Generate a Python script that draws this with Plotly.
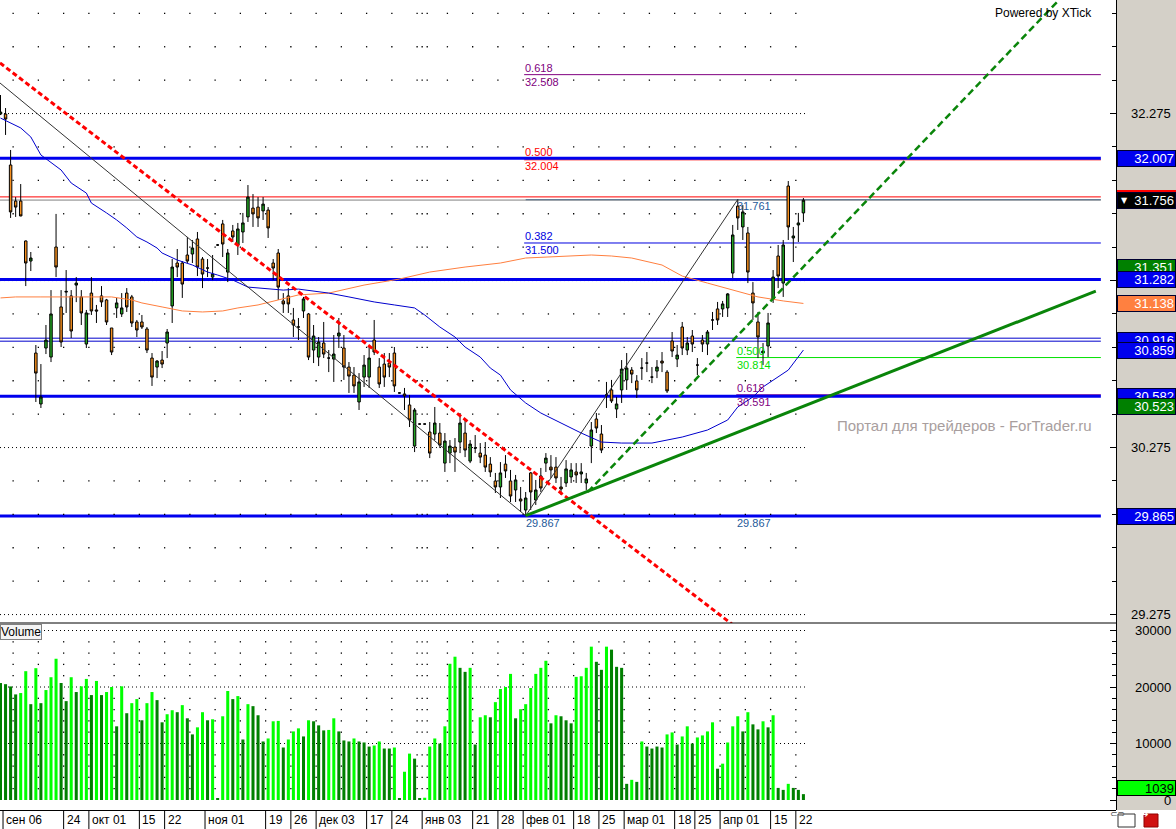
import plotly.graph_objects as go

# ---------------- data ----------------
opens = [32.272, 32.272, 31.967, 31.751, 31.751, 31.512, 31.392, 30.841, 30.536, 30.871,
         30.817, 31.476, 31.117, 31.206, 31.183, 31.248, 31.177, 30.895, 31.200, 31.099,
         31.183, 31.159, 30.991, 31.111, 31.075, 31.200, 31.177, 31.027, 31.027, 30.985,
         30.811, 30.757, 30.799, 30.901, 31.123, 31.380, 31.380, 31.428, 31.434, 31.524,
         31.404, 31.350, 31.296, 31.488, 31.614, 31.326, 31.572, 31.488, 31.566, 31.656,
         31.709, 31.715, 31.692, 31.697, 31.380, 31.440, 31.153, 31.183, 31.039, 30.997,
         31.093, 31.075, 30.859, 30.817, 30.901, 30.811, 30.805, 30.943, 30.871, 30.757,
         30.709, 30.548, 30.697, 30.697, 30.919, 30.757, 30.775, 30.781, 30.841, 30.602,
         30.596, 30.530, 30.284, 30.416, 30.416, 30.368, 30.356, 30.362, 30.182, 30.242,
         30.278, 30.308, 30.362, 30.194, 30.272, 30.242, 30.230, 30.176, 30.075, 30.039,
         30.176, 30.075, 30.021, 29.967, 29.901, 30.123, 29.961, 30.105, 30.182, 30.158,
         30.158, 30.039, 30.063, 30.099, 30.129, 30.117, 30.063, 30.284, 30.446, 30.356,
         30.590, 30.620, 30.506, 30.620, 30.680, 30.739, 30.674, 30.751, 30.781, 30.697,
         30.733, 30.793, 30.727, 30.913, 30.805, 30.997, 30.859, 30.943, 30.769, 30.919,
         30.895, 31.039, 31.105, 31.105, 31.111, 31.320, 31.721, 31.596, 31.560, 31.200,
         31.027, 30.841, 30.883, 31.165, 31.422, 31.260, 31.841, 31.530, 31.608, 31.680]
highs = [32.386, 32.308, 32.057, 31.775, 31.853, 31.515, 31.446, 30.889, 30.775, 31.009,
         31.218, 31.674, 31.218, 31.338, 31.218, 31.296, 31.218, 31.099, 31.296, 31.129,
         31.242, 31.165, 30.991, 31.171, 31.200, 31.230, 31.189, 31.039, 31.069, 30.997,
         30.841, 30.799, 30.853, 30.985, 31.404, 31.464, 31.392, 31.536, 31.518, 31.566,
         31.416, 31.404, 31.428, 31.494, 31.638, 31.464, 31.608, 31.620, 31.680, 31.847,
         31.793, 31.775, 31.775, 31.715, 31.404, 31.464, 31.200, 31.230, 31.111, 31.051,
         31.177, 31.081, 31.009, 30.937, 31.027, 30.859, 30.949, 31.051, 30.949, 30.787,
         30.757, 30.721, 30.829, 30.877, 31.039, 30.811, 30.841, 30.841, 30.877, 30.605,
         30.632, 30.590, 30.512, 30.419, 30.419, 30.428, 30.518, 30.422, 30.362, 30.320,
         30.332, 30.482, 30.440, 30.320, 30.350, 30.302, 30.308, 30.218, 30.123, 30.188,
         30.230, 30.141, 30.111, 30.039, 30.009, 30.129, 30.081, 30.153, 30.242, 30.230,
         30.218, 30.099, 30.200, 30.182, 30.182, 30.182, 30.123, 30.428, 30.482, 30.410,
         30.668, 30.680, 30.578, 30.799, 30.841, 30.757, 30.709, 30.811, 30.847, 30.757,
         30.799, 30.847, 30.739, 30.967, 30.889, 31.027, 30.937, 30.979, 30.811, 30.949,
         30.979, 31.087, 31.147, 31.153, 31.200, 31.608, 31.761, 31.727, 31.596, 31.266,
         31.087, 30.901, 31.081, 31.338, 31.488, 31.518, 31.871, 31.596, 31.680, 31.769]
lows = [32.266, 32.147, 31.650, 31.656, 31.660, 31.242, 31.332, 30.548, 30.512, 30.835,
        30.787, 31.296, 30.877, 31.081, 30.931, 31.146, 31.009, 30.871, 31.069, 31.021,
        31.117, 31.009, 30.829, 31.051, 31.057, 31.087, 30.997, 30.937, 30.985, 30.841,
        30.644, 30.691, 30.751, 30.811, 31.021, 31.296, 31.171, 31.380, 31.380, 31.302,
        31.230, 31.296, 31.278, 31.482, 31.416, 31.266, 31.506, 31.428, 31.500, 31.626,
        31.596, 31.596, 31.638, 31.530, 31.278, 31.159, 31.081, 31.081, 30.937, 30.919,
        31.051, 30.799, 30.781, 30.763, 30.811, 30.727, 30.668, 30.871, 30.680, 30.602,
        30.602, 30.500, 30.638, 30.632, 30.829, 30.632, 30.638, 30.697, 30.608, 30.599,
        30.500, 30.398, 30.248, 30.413, 30.413, 30.212, 30.320, 30.272, 30.129, 30.182,
        30.129, 30.242, 30.218, 30.182, 30.242, 30.182, 30.129, 30.099, 30.003, 29.973,
        30.093, 29.949, 29.949, 29.889, 29.867, 29.901, 29.931, 30.009, 30.129, 30.093,
        30.063, 29.991, 30.039, 30.063, 30.063, 30.063, 30.021, 30.182, 30.362, 30.242,
        30.512, 30.542, 30.452, 30.542, 30.620, 30.661, 30.572, 30.680, 30.727, 30.661,
        30.691, 30.727, 30.602, 30.817, 30.757, 30.829, 30.829, 30.847, 30.709, 30.847,
        30.829, 30.979, 31.009, 31.057, 31.057, 31.290, 31.578, 31.518, 31.260, 31.039,
        30.811, 30.769, 30.817, 31.141, 31.230, 31.177, 31.518, 31.386, 31.506, 31.626]
closes = [32.284, 32.242, 31.686, 31.715, 31.662, 31.380, 31.410, 30.721, 30.578, 30.919,
          31.075, 31.356, 30.907, 31.210, 30.973, 31.260, 31.081, 31.081, 31.093, 31.093,
          31.147, 31.027, 30.847, 31.141, 31.111, 31.117, 31.021, 30.979, 30.997, 30.859,
          30.697, 30.793, 30.775, 30.967, 31.356, 31.356, 31.254, 31.392, 31.470, 31.356,
          31.314, 31.350, 31.314, 31.488, 31.494, 31.440, 31.536, 31.584, 31.620, 31.775,
          31.674, 31.650, 31.733, 31.590, 31.350, 31.236, 31.135, 31.135, 31.009, 30.997,
          31.165, 30.817, 30.943, 30.907, 30.835, 30.811, 30.835, 30.961, 30.757, 30.703,
          30.644, 30.668, 30.769, 30.811, 30.847, 30.656, 30.697, 30.757, 30.644, 30.602,
          30.584, 30.440, 30.500, 30.416, 30.416, 30.242, 30.422, 30.290, 30.314, 30.284,
          30.248, 30.422, 30.260, 30.296, 30.272, 30.218, 30.158, 30.129, 30.039, 30.123,
          30.135, 29.985, 30.081, 29.955, 29.973, 30.009, 30.021, 30.033, 30.212, 30.141,
          30.093, 30.027, 30.147, 30.141, 30.111, 30.129, 30.087, 30.380, 30.392, 30.260,
          30.590, 30.554, 30.536, 30.745, 30.751, 30.715, 30.620, 30.751, 30.781, 30.697,
          30.757, 30.781, 30.614, 30.853, 30.829, 30.871, 30.901, 30.895, 30.769, 30.895,
          30.967, 31.039, 31.039, 31.135, 31.195, 31.548, 31.650, 31.686, 31.326, 31.141,
          30.937, 30.853, 31.021, 31.296, 31.302, 31.488, 31.596, 31.542, 31.620, 31.756]
volumes = [20700, 20500, 20100, 18690, 18930, 22800, 16960, 23330, 17140, 19460,
           21730, 25000, 20710, 17500, 21730, 19110, 20120, 21430, 18570, 21070,
           18570, 19110, 20000, 13040, 20120, 15360, 17140, 17860, 14110, 17140,
           19110, 17680, 13750, 15180, 15890, 15540, 16790, 14460, 11610, 12860,
           15540, 14110, 14290, 300, 14820, 19290, 17860, 18390, 10710, 16960,
           16610, 15000, 10360, 10890, 13930, 14000, 9290, 10710, 12140, 12680,
           11250, 14110, 13930, 13210, 12320, 12400, 14460, 12140, 10540, 10360,
           10890, 10360, 10180, 9460, 9640, 10360, 9110, 9110, 9290, 360,
           5000, 8210, 7320, 300, 400, 9460, 10890, 10000, 13040, 24110,
           25360, 23390, 22680, 23390, 9820, 14640, 15000, 14640, 17320, 19640,
           20000, 22320, 14460, 16070, 16960, 19820, 22320, 23390, 24640, 13570,
           15000, 14820, 14110, 13570, 21790, 21900, 23390, 27140, 24460, 23040,
           27140, 26610, 23570, 23390, 2860, 3570, 3210, 10360, 9460, 9110,
           9460, 9290, 11610, 11960, 9820, 11250, 13040, 10000, 11070, 11430,
           12140, 13750, 5540, 6430, 10180, 13040, 14820, 12140, 15540, 13390,
           12500, 13930, 12860, 15000, 2140, 1790, 2860, 2140, 1790, 1039]
vol_up = [0, 0, 0, 0, 1, 1, 0, 1, 0, 1,
          1, 1, 0, 0, 1, 0, 1, 1, 0, 1,
          0, 1, 1, 0, 1, 0, 1, 1, 0, 1,
          1, 0, 0, 1, 1, 0, 1, 0, 0, 1,
          1, 0, 1, 0, 1, 1, 0, 1, 0, 1,
          0, 0, 0, 1, 1, 1, 0, 1, 1, 1,
          0, 1, 0, 0, 0, 1, 1, 0, 0, 0,
          1, 0, 0, 0, 1, 1, 0, 0, 1, 0,
          1, 1, 0, 0, 1, 1, 1, 0, 1, 1,
          1, 0, 0, 1, 0, 1, 1, 0, 1, 1,
          1, 1, 0, 1, 1, 1, 1, 1, 1, 0,
          1, 0, 0, 0, 1, 1, 1, 1, 0, 0,
          1, 0, 0, 0, 0, 1, 0, 1, 0, 0,
          0, 0, 1, 1, 0, 1, 1, 0, 1, 1,
          1, 1, 0, 1, 1, 1, 1, 0, 1, 0,
          0, 1, 0, 1, 0, 0, 1, 0, 0, 0]
bars_idx = list(range(len(opens)))

blue_ma_idx = [0, 4, 6, 8, 12, 14, 17, 18, 21, 23, 25, 27, 29, 31, 32, 35, 38, 41, 43, 46,
               49, 53, 56, 59, 62, 65, 69, 74, 78, 82, 84, 87, 90, 92, 95, 97, 99, 101, 104, 107,
               111, 115, 119, 123, 129, 135, 140, 144, 146, 149, 151, 153, 156, 159]
blue_ma_val = [32.248, 32.189, 32.135, 32.027, 31.937, 31.859, 31.799, 31.739, 31.680, 31.638,
               31.590, 31.536, 31.506, 31.470, 31.440, 31.398, 31.368, 31.326, 31.308, 31.278,
               31.236, 31.224, 31.218, 31.224, 31.212, 31.200, 31.177, 31.147, 31.129, 31.111,
               31.069, 30.997, 30.937, 30.877, 30.817, 30.751, 30.709, 30.620, 30.542, 30.482,
               30.422, 30.362, 30.308, 30.302, 30.302, 30.338, 30.380, 30.440, 30.518, 30.578,
               30.638, 30.680, 30.739, 30.859]
orange_ma_idx = [0, 3, 8, 17, 22, 26, 28, 32, 36, 40, 44, 47, 51, 55, 59, 65, 72, 79, 85, 92,
                 99, 104, 111, 117, 121, 125, 131, 135, 140, 145, 150, 155, 159]
orange_ma_val = [31.171, 31.177, 31.177, 31.177, 31.177, 31.159, 31.141, 31.117, 31.093, 31.087,
                 31.093, 31.111, 31.129, 31.159, 31.189, 31.200, 31.248, 31.284, 31.326, 31.356,
                 31.380, 31.410, 31.422, 31.428, 31.422, 31.410, 31.368, 31.302, 31.260, 31.218,
                 31.177, 31.153, 31.138]

# trend lines: anchor points (bar index, price)
red_trend_x, red_trend_y = [-0.1, 146.0], [32.578, 29.191]
black_trend_x, black_trend_y = [-0.1, 104], [32.458, 29.867]
fib_leg_x, fib_leg_y = [104, 146], [29.867, 31.761]
green_dash_x, green_dash_y = [116.3, 209.6], [30.009, 32.955]
green_solid_x, green_solid_y = [104, 216.9], [29.867, 31.212]

# horizontal levels
thick_levels = [32.007, 31.282, 30.582, 29.865]
thin_blue_levels = [30.930, 30.912]
fib1_ratio = ["0.618", "0.500", "0.382"]
fib1_value = [32.508, 32.004, 31.500]
fib1_color = ["#800080", "#FF0000", "#0000E0"]
fib2_ratio = ["0.500", "0.618"]
fib2_value = [30.814, 30.591]
fib2_color = ["#00E000", "#800080"]
last_price = 31.756

right_label_text = ["32.007", "31.351", "31.282", "31.138", "30.916", "30.859",
                    "30.582", "30.523", "29.865", "31.756"]
right_label_val = [32.007, 31.351, 31.282, 31.138, 30.916, 30.859,
                   30.582, 30.523, 29.865, 31.756]
right_label_bg = ["#0000EE", "#008000", "#0000EE", "#FF8040", "#0000EE", "#0000EE",
                  "#0000EE", "#008000", "#0000EE", "#000000"]

price_ticks = [29.275, 30.275, 31.275, 32.275]
vol_ticks = [0, 10000, 20000, 30000]

date_pos = [0.5, 12.5, 17.5, 27.5, 32.5, 40.5, 52.5, 57.5, 62.5, 72.5, 77.5, 83.5,
            93.5, 98.5, 103.5, 113.5, 118.5, 123.5, 133.5, 137.5, 142.5, 152.5, 157.5]
date_text = ["сен 06", "24", "окт 01", "15", "22", "ноя 01", "19", "26", "дек 03", "17", "24",
             "янв 03", "21", "28", "фев 01", "18", "25", "мар 01", "18", "25", "апр 01", "15", "22"]
week_cols = [2.5, 7.5, 12.5, 17.5, 22.5, 27.5, 32.5, 37.5, 42.5, 47.5, 52.5, 57.5, 62.5,
             67.5, 72.5, 77.5, 82.5, 83.5, 84.5, 88.5, 93.5, 98.5, 103.5, 108.5, 113.5,
             118.5, 123.5, 128.5, 133.5, 137.5, 142.5, 147.5, 152.5, 157.5]

# ---------------- geometry ----------------
W, H = 1176, 829
PLOT_W = 1116
XR = [-0.1, 220.9]
LINE_END = 217.9
FONT = "Liberation Sans, Arial, sans-serif"


def py(p):  # pixel row -> paper y
    return 1 - p / H


def px(p):  # pixel column -> paper x
    return p / PLOT_W


fig = go.Figure()

# dot grid (price panel)
price_rows = [round(29.275 + 0.2 * k, 3) for k in range(19) if k % 5 != 0]
dx, dy = [], []
for c in week_cols:
    for r in price_rows:
        dx.append(c)
        dy.append(r)
fig.add_trace(go.Scatter(x=dx, y=dy, mode="markers", xaxis="x", yaxis="y",
                         marker=dict(size=1.3, color="black", symbol="square"),
                         hoverinfo="skip"))
vol_rows = [v for v in range(2000, 30000, 2000) if v % 10000 != 0]
vx, vy = [], []
for c in week_cols:
    for r in vol_rows:
        vx.append(c)
        vy.append(r)
fig.add_trace(go.Scatter(x=vx, y=vy, mode="markers", xaxis="x2", yaxis="y2",
                         marker=dict(size=1.3, color="black", symbol="square"),
                         hoverinfo="skip"))

# moving averages
fig.add_trace(go.Scatter(x=orange_ma_idx, y=orange_ma_val, mode="lines", xaxis="x", yaxis="y",
                         line=dict(color="#FF7F3F", width=1), hoverinfo="skip"))
fig.add_trace(go.Scatter(x=blue_ma_idx, y=blue_ma_val, mode="lines", xaxis="x", yaxis="y",
                         line=dict(color="#0000CD", width=1), hoverinfo="skip"))

# trend lines
fig.add_trace(go.Scatter(x=black_trend_x, y=black_trend_y, mode="lines", xaxis="x", yaxis="y",
                         line=dict(color="#333333", width=1), hoverinfo="skip"))
fig.add_trace(go.Scatter(x=fib_leg_x, y=fib_leg_y, mode="lines", xaxis="x", yaxis="y",
                         line=dict(color="#333333", width=1), hoverinfo="skip"))
fig.add_trace(go.Scatter(x=red_trend_x, y=red_trend_y, mode="lines", xaxis="x", yaxis="y",
                         line=dict(color="#FF0000", width=3, dash="5px,3px"), hoverinfo="skip"))
fig.add_trace(go.Scatter(x=green_solid_x, y=green_solid_y, mode="lines", xaxis="x", yaxis="y",
                         line=dict(color="#0A850A", width=3), hoverinfo="skip"))
fig.add_trace(go.Scatter(x=green_dash_x, y=green_dash_y, mode="lines", xaxis="x", yaxis="y",
                         line=dict(color="#0A850A", width=2.5, dash="7px,4px"), hoverinfo="skip"))

# candles
fig.add_trace(go.Candlestick(
    x=bars_idx, open=opens, high=highs, low=lows, close=closes, xaxis="x", yaxis="y",
    increasing=dict(line=dict(color="black", width=1), fillcolor="#22A422"),
    decreasing=dict(line=dict(color="black", width=1), fillcolor="#F7901E"),
    whiskerwidth=0, hoverinfo="skip"))

# volume bars
fig.add_trace(go.Bar(x=bars_idx, y=volumes, xaxis="x2", yaxis="y2", width=0.6,
                     marker=dict(color=["#00FF00" if u else "#008000" for u in vol_up],
                                 line=dict(width=0)),
                     hoverinfo="skip"))

# bottom date row separators
sx, sy = [], []
for p in date_pos:
    sx += [p, p, None]
    sy += [0, 1, None]
fig.add_trace(go.Scatter(x=sx, y=sy, mode="lines", xaxis="x3", yaxis="y3",
                         line=dict(color="black", width=1), hoverinfo="skip"))

shapes = []
annotations = []

# dotted major grid lines
for t in price_ticks:
    shapes.append(dict(type="line", xref="x", yref="y", x0=-0.1, x1=159.6, y0=t, y1=t,
                       line=dict(color="black", width=1, dash="1px,3px"), layer="below"))
for t in vol_ticks[1:]:
    shapes.append(dict(type="line", xref="x2", yref="y2", x0=-0.1, x1=159.6, y0=t, y1=t,
                       line=dict(color="black", width=1, dash="1px,3px"), layer="below"))

# horizontal level lines
shapes.append(dict(type="line", xref="x", yref="y", x0=-0.1, x1=LINE_END, y0=31.776, y1=31.776,
                   line=dict(color="#FF0000", width=1), layer="below"))
shapes.append(dict(type="line", xref="x", yref="y", x0=-0.1, x1=LINE_END, y0=31.757, y1=31.757,
                   line=dict(color="#808080", width=1), layer="below"))
shapes.append(dict(type="line", xref="x", yref="y", x0=fib_leg_x[0], x1=LINE_END, y0=31.759, y1=31.759,
                   line=dict(color="#4A6A8A", width=1), layer="below"))
for v in thin_blue_levels:
    shapes.append(dict(type="line", xref="x", yref="y", x0=-0.1, x1=LINE_END, y0=v, y1=v,
                       line=dict(color="#0000CC", width=1), layer="below"))
for r, v, c in zip(fib1_ratio, fib1_value, fib1_color):
    yv = v - 0.006 if r == "0.500" else v
    shapes.append(dict(type="line", xref="x", yref="y", x0=103.7, x1=LINE_END, y0=yv, y1=yv,
                       line=dict(color=c, width=1), layer="below"))
    annotations.append(dict(x=103.7, y=v, xref="x", yref="y", text=r, showarrow=False,
                            xanchor="left", yanchor="bottom", font=dict(family=FONT, size=11, color=c),
                            borderpad=0))
    annotations.append(dict(x=103.7, y=v, xref="x", yref="y", text=f"{v:.3f}", showarrow=False,
                            xanchor="left", yanchor="top", font=dict(family=FONT, size=11, color=c),
                            borderpad=0))
for r, v, c in zip(fib2_ratio, fib2_value, fib2_color):
    shapes.append(dict(type="line", xref="x", yref="y", x0=145.7, x1=LINE_END, y0=v, y1=v,
                       line=dict(color=c, width=1), layer="below"))
    annotations.append(dict(x=145.7, y=v, xref="x", yref="y", text=r, showarrow=False,
                            xanchor="left", yanchor="bottom", font=dict(family=FONT, size=11, color=c),
                            borderpad=0))
    annotations.append(dict(x=145.7, y=v, xref="x", yref="y", text=f"{v:.3f}", showarrow=False,
                            xanchor="left", yanchor="top", font=dict(family=FONT, size=11, color=c),
                            borderpad=0))
for v in thick_levels:
    shapes.append(dict(type="line", xref="x", yref="y", x0=-0.1, x1=LINE_END, y0=v, y1=v,
                       line=dict(color="#0000EE", width=3), layer="below"))

# swing labels
for xi in [fib_leg_x[0] - 0.2, 145.7]:
    annotations.append(dict(x=xi, y=fib_leg_y[0], xref="x", yref="y", text=f"{fib_leg_y[0]:.3f}",
                            showarrow=False, xanchor="left", yanchor="top", borderpad=0,
                            font=dict(family=FONT, size=11, color="#1E5A9A")))
annotations.append(dict(x=145.7, y=fib_leg_y[1], xref="x", yref="y", text=f"{fib_leg_y[1]:.3f}",
                        showarrow=False, xanchor="left", yanchor="top", borderpad=0,
                        font=dict(family=FONT, size=11, color="#1E5A9A")))

# right axis panel background and frame
shapes.append(dict(type="rect", xref="paper", yref="paper", x0=px(1116), x1=px(1176), y0=py(810), y1=1,
                   fillcolor="#D4D0C8", line=dict(width=0), layer="below"))
shapes.append(dict(type="line", xref="paper", yref="paper", x0=0, x1=px(1116), y0=py(623), y1=py(623),
                   line=dict(color="black", width=1)))
shapes.append(dict(type="line", xref="paper", yref="paper", x0=0, x1=px(1116), y0=py(810.5), y1=py(810.5),
                   line=dict(color="black", width=1)))
shapes.append(dict(type="line", xref="paper", yref="paper", x0=px(1116.5), x1=px(1116.5), y0=py(810), y1=1,
                   line=dict(color="black", width=1)))
# red marker above last price box
shapes.append(dict(type="line", xref="paper", yref="paper", x0=px(1117), x1=px(1176), y0=py(191), y1=py(191),
                   line=dict(color="#FF0000", width=2)))
# bottom-right icons
shapes.append(dict(type="rect", xref="paper", yref="paper", x0=px(1118), x1=px(1135), y0=py(827), y1=py(814),
                   fillcolor="white", line=dict(color="#333333", width=1)))
shapes.append(dict(type="rect", xref="paper", yref="paper", x0=px(1144), x1=px(1158), y0=py(827), y1=py(814),
                   fillcolor="#D01010", line=dict(color="#900000", width=1)))
annotations.append(dict(x=px(1126.5), y=py(820.5), xref="paper", yref="paper", text="⊂⊃", showarrow=False,
                        font=dict(family="DejaVu Sans", size=9, color="#555555")))
annotations.append(dict(x=px(1151), y=py(820.5), xref="paper", yref="paper", text="➔", showarrow=False,
                        font=dict(family="DejaVu Sans", size=9, color="white")))

# axis tick labels
for t in price_ticks:
    annotations.append(dict(x=px(1173), y=t, xref="paper", yref="y", text=f"{t:.3f}", showarrow=False,
                            xanchor="right", yanchor="middle", font=dict(family=FONT, size=13, color="black")))
for t in vol_ticks:
    annotations.append(dict(x=px(1173), y=t, xref="paper", yref="y2", text=str(t), showarrow=False,
                            xanchor="right", yanchor="middle", font=dict(family=FONT, size=13, color="black")))

# coloured value boxes
for txt, v, bg in zip(right_label_text, right_label_val, right_label_bg):
    annotations.append(dict(x=px(1117), y=v, xref="paper", yref="y", text=txt, showarrow=False,
                            xanchor="left", yanchor="middle", align="right", width=55, height=13,
                            bgcolor=bg, bordercolor="#000030", borderwidth=1, borderpad=1,
                            font=dict(family=FONT, size=13, color="white")))
annotations.append(dict(x=px(1119), y=last_price, xref="paper", yref="y", text="▼", showarrow=False,
                        xanchor="left", yanchor="middle", font=dict(family="DejaVu Sans", size=8, color="white")))
annotations.append(dict(x=px(1117), y=volumes[-1], xref="paper", yref="y2", text=str(volumes[-1]),
                        showarrow=False, xanchor="left", yanchor="middle", align="right", width=55, height=12,
                        bgcolor="#00FF00", bordercolor="#000000", borderwidth=1, borderpad=1, yshift=6,
                        font=dict(family=FONT, size=13, color="black")))

# date labels
for p, t in zip(date_pos, date_text):
    annotations.append(dict(x=p, y=0.5, xref="x3", yref="y3", text=t, showarrow=False,
                            xanchor="left", yanchor="middle", xshift=1,
                            font=dict(family=FONT, size=12, color="black")))

# texts
annotations.append(dict(x=px(1094), y=py(13), xref="paper", yref="paper", text="Powered by XTick",
                        showarrow=False, xanchor="right", yanchor="middle",
                        font=dict(family=FONT, size=12, color="black")))
annotations.append(dict(x=px(1094), y=py(425), xref="paper", yref="paper",
                        text="Портал для трейдеров - ForTrader.ru", showarrow=False,
                        xanchor="right", yanchor="middle", font=dict(family=FONT, size=15, color="#A89E9E")))
annotations.append(dict(x=0, y=py(624), xref="paper", yref="paper", text="Volume", showarrow=False,
                        xanchor="left", yanchor="top", bgcolor="#F4F4F4", bordercolor="#808080",
                        borderwidth=1, borderpad=0, font=dict(family=FONT, size=12, color="black")))

axis_common = dict(showgrid=False, zeroline=False, fixedrange=True)
fig.update_layout(
    width=W, height=H, margin=dict(l=0, r=W - PLOT_W, t=0, b=0),
    paper_bgcolor="white", plot_bgcolor="white", showlegend=False, hovermode=False,
    xaxis=dict(domain=[0, 1], range=XR, anchor="y", visible=False, rangeslider=dict(visible=False), **axis_common),
    yaxis=dict(domain=[py(623), 1], range=[29.2245, 32.955], anchor="x", side="right",
               showline=False, ticks="inside", ticklen=6, tickcolor="black", tickvals=price_ticks,
               showticklabels=False,
               minor=dict(tick0=29.275, dtick=0.2, ticks="inside", ticklen=4, tickcolor="black", showgrid=False),
               **axis_common),
    xaxis2=dict(domain=[0, 1], range=XR, anchor="y2", visible=False, **axis_common),
    yaxis2=dict(domain=[py(810), py(624)], range=[-1770, 31150], anchor="x2", side="right",
                showline=False, ticks="inside", ticklen=6, tickcolor="black", tickvals=vol_ticks,
                showticklabels=False,
                minor=dict(tick0=0, dtick=2000, ticks="inside", ticklen=4, tickcolor="black", showgrid=False),
                **axis_common),
    xaxis3=dict(domain=[0, 1], range=XR, anchor="y3", visible=False, **axis_common),
    yaxis3=dict(domain=[0, py(811)], range=[0, 1], anchor="x3", visible=False, **axis_common),
    shapes=shapes, annotations=annotations,
)

fig.write_html("out.html", config={"displayModeBar": False},
               post_script="document.body.style.margin='0';document.body.style.overflow='hidden';")
